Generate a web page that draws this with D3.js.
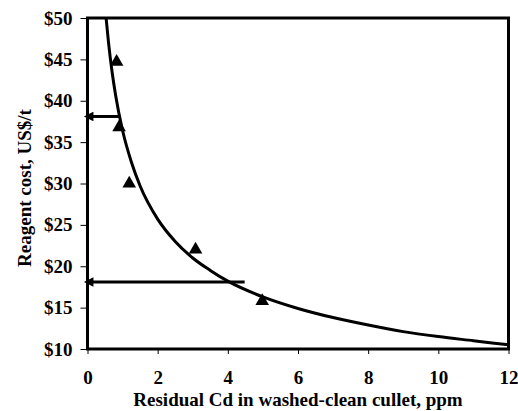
<!DOCTYPE html>
<html>
<head>
<meta charset="utf-8">
<script src="https://cdn.jsdelivr.net/npm/d3@7"></script>
<style>
  body { margin: 0; background: #fff; }
  text { font-family: "Liberation Serif", "Times New Roman", serif; font-weight: bold; fill: #000; }
</style>
</head>
<body>
<svg width="518" height="411"></svg>
<script>
// measured points (triangles)
const pointX = [0.83, 0.9, 1.19, 3.08, 4.98];
const pointY = [44.7, 36.8, 30.0, 22.0, 15.8];

// fitted curve
const curveX = [0.53, 0.6, 0.7, 0.8, 1.0, 1.25, 1.5, 2, 2.5, 3, 3.5, 4, 5, 6, 7, 8, 9, 10, 11, 12];
const curveY = [50, 47, 43.5, 40.7, 36.4, 32.6, 29.7, 25.7, 23, 21, 19.5, 18.2, 16.3, 14.9, 13.8, 12.9, 12.1, 11.5, 11.0, 10.5];

// arrows: start (on the curve) -> end (y axis)
const arrowFromX = [0.92, 4.48];
const arrowY = [38.1, 18.1];

const xTicks = [0, 2, 4, 6, 8, 10, 12];
const yTicks = [10, 15, 20, 25, 30, 35, 40, 45, 50];

const svg = d3.select('svg');
const plotL = 87.5, plotR = 508.5, plotT = 18, plotB = 349;

const x = d3.scaleLinear().domain([0, 12]).range([plotL, plotR]);
const y = d3.scaleLinear().domain([10, 50]).range([plotB, plotT]);

const defs = svg.append('defs');
defs.append('clipPath').attr('id', 'plot')
  .append('rect')
  .attr('x', plotL).attr('y', plotT)
  .attr('width', plotR - plotL).attr('height', plotB - plotT);

defs.append('marker')
  .attr('id', 'head')
  .attr('viewBox', '0 0 10 10')
  .attr('refX', 1).attr('refY', 5)
  .attr('markerWidth', 3.6).attr('markerHeight', 3.2)
  .attr('markerUnits', 'strokeWidth')
  .attr('orient', 'auto')
  .append('path')
  .attr('d', 'M10,5L0,0L0,10Z')
  .attr('fill', '#000');

// axes
const yAxis = svg.append('g')
  .attr('transform', `translate(${plotL},0)`)
  .call(d3.axisLeft(y).tickValues(yTicks).tickSize(7).tickPadding(8).tickFormat((d) => '$' + d));
const xAxis = svg.append('g')
  .attr('transform', `translate(0,${plotB})`)
  .call(d3.axisBottom(x).tickValues(xTicks).tickSize(5).tickPadding(17));

[yAxis, xAxis].forEach((g) => {
  g.select('.domain').remove();
  g.selectAll('.tick line').attr('stroke', '#000').attr('stroke-width', 1);
  g.selectAll('.tick text').attr('font-size', '19px');
});

// curve
const line = d3.line()
  .x((d, i) => x(curveX[i]))
  .y((d) => y(d))
  .curve(d3.curveMonotoneX);

svg.append('path')
  .datum(curveY)
  .attr('clip-path', 'url(#plot)')
  .attr('fill', 'none')
  .attr('stroke', '#000')
  .attr('stroke-width', 3)
  .attr('d', line);

// points
svg.selectAll('.pt')
  .data(pointX)
  .enter()
  .append('path')
  .attr('class', 'pt')
  .attr('transform', (d, i) => `translate(${x(d)},${y(pointY[i])})`)
  .attr('d', d3.symbol(d3.symbolTriangle, 80))
  .attr('fill', '#000');

// arrows
svg.selectAll('.arrow')
  .data(arrowFromX)
  .enter()
  .append('line')
  .attr('class', 'arrow')
  .attr('x1', (d) => x(d))
  .attr('x2', x(0) + 5)
  .attr('y1', (d, i) => y(arrowY[i]))
  .attr('y2', (d, i) => y(arrowY[i]))
  .attr('stroke', '#000')
  .attr('stroke-width', 3)
  .attr('marker-end', 'url(#head)');

// frame
svg.append('rect')
  .attr('x', plotL).attr('y', plotT)
  .attr('width', plotR - plotL).attr('height', plotB - plotT)
  .attr('fill', 'none')
  .attr('stroke', '#000')
  .attr('stroke-width', 3);

// titles
svg.append('text')
  .attr('x', 298)
  .attr('y', 406)
  .attr('text-anchor', 'middle')
  .attr('font-size', '19px')
  .text('Residual Cd in washed-clean cullet, ppm');

svg.append('text')
  .attr('transform', 'translate(31,188) rotate(-90)')
  .attr('text-anchor', 'middle')
  .attr('font-size', '19px')
  .text('Reagent cost, US$/t');
</script>
</body>
</html>
